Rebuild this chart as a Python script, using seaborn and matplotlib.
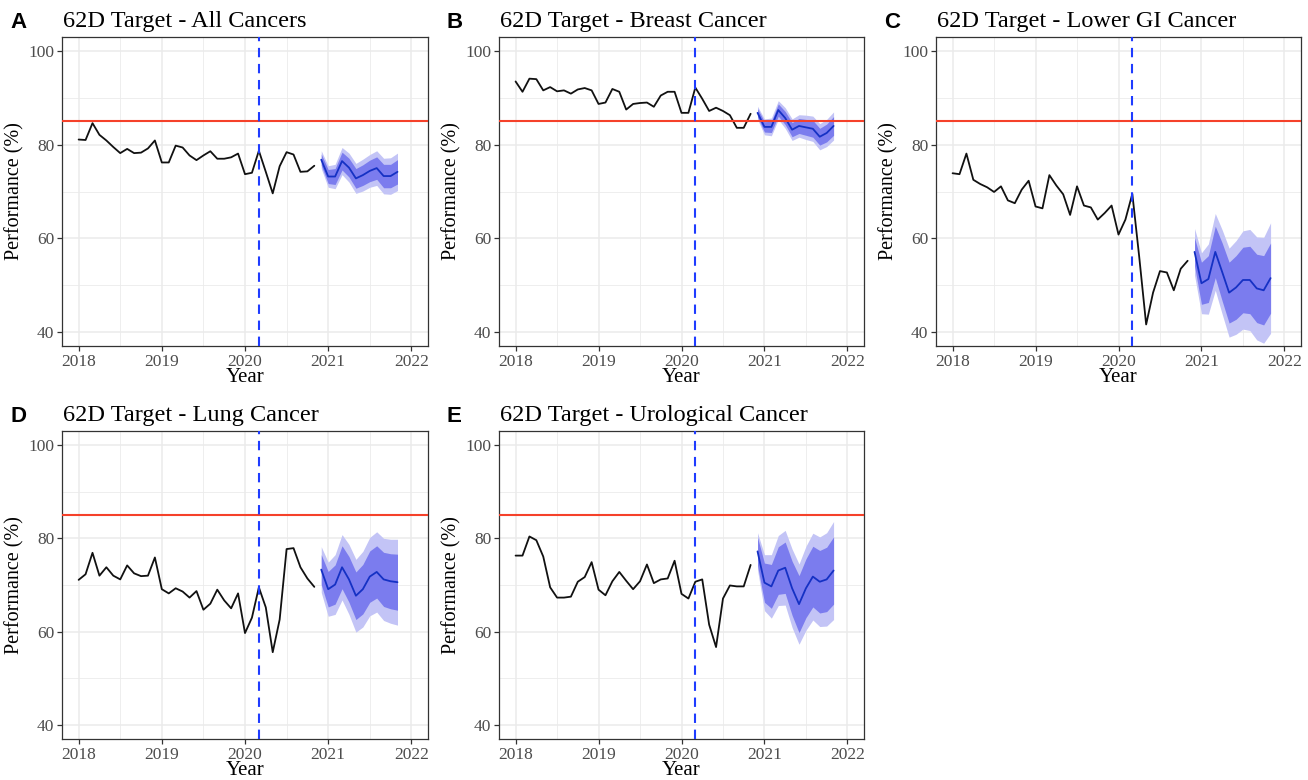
import numpy as np
import pandas as pd
import matplotlib
matplotlib.use("Agg")
import matplotlib.pyplot as plt
import seaborn as sns
from matplotlib.ticker import MultipleLocator

# ---- monthly performance against the 62-day target (%) ----
hist_start, hist_end = "2018-01-01", "2020-11-01"
fc_start, fc_end = "2020-12-01", "2021-11-01"

all_hist = [81.1, 81.0, 84.6, 82.1, 80.9, 79.5, 78.2, 79.1, 78.2, 78.3, 79.2, 80.9,
            76.2, 76.2, 79.8, 79.4, 77.7, 76.7, 77.7, 78.6, 77.0, 77.0, 77.3, 78.1,
            73.7, 74.0, 78.7, 74.2, 69.6, 75.4, 78.4, 77.9, 74.2, 74.3, 75.5]
all_fc = [76.8, 73.2, 73.2, 76.5, 75.1, 72.8, 73.5, 74.4, 75.0, 73.3, 73.3, 74.2]
all_lo80 = [75.6, 71.7, 71.5, 74.6, 73.1, 70.7, 71.3, 72.1, 72.6, 70.8, 70.8, 71.6]
all_hi80 = [78.0, 74.7, 74.9, 78.4, 77.1, 74.9, 75.7, 76.7, 77.4, 75.8, 75.8, 76.8]
all_lo95 = [74.9, 70.9, 70.6, 73.6, 72.0, 69.6, 70.1, 70.9, 71.3, 69.5, 69.4, 70.2]
all_hi95 = [78.7, 75.5, 75.8, 79.4, 78.2, 76.0, 76.9, 77.9, 78.7, 77.1, 77.2, 78.2]

breast_hist = [93.5, 91.3, 94.1, 94.0, 91.6, 92.3, 91.4, 91.6, 90.9, 91.8, 92.1, 91.6,
               88.7, 89.0, 91.9, 91.3, 87.5, 88.7, 88.9, 89.0, 88.1, 90.5, 91.3, 91.3,
               86.8, 86.8, 92.2, 89.8, 87.2, 87.9, 87.2, 86.3, 83.6, 83.6, 86.6]
breast_fc = [86.8, 83.8, 83.8, 87.4, 85.7, 83.2, 84.0, 83.7, 83.4, 81.7, 82.5, 84.0]
breast_lo80 = [85.9, 82.7, 82.6, 86.1, 84.3, 81.7, 82.4, 82.0, 81.6, 79.9, 80.6, 82.0]
breast_hi80 = [87.7, 84.9, 85.0, 88.7, 87.1, 84.7, 85.6, 85.4, 85.2, 83.5, 84.4, 86.0]
breast_lo95 = [85.4, 82.1, 81.9, 85.4, 83.5, 80.9, 81.6, 81.1, 80.7, 78.9, 79.6, 81.0]
breast_hi95 = [88.2, 85.5, 85.7, 89.4, 87.9, 85.5, 86.4, 86.3, 86.1, 84.5, 85.4, 87.0]

lgi_hist = [73.9, 73.7, 78.1, 72.5, 71.6, 70.9, 69.9, 71.1, 68.1, 67.5, 70.4, 72.3,
            66.8, 66.4, 73.5, 71.3, 69.4, 65.0, 71.1, 67.0, 66.6, 64.0, 65.4, 67.0,
            60.8, 64.0, 69.5, 56.0, 41.6, 48.4, 53.0, 52.7, 48.9, 53.5, 55.2]
lgi_fc = [57.1, 50.4, 51.3, 57.1, 52.8, 48.4, 49.5, 51.1, 51.1, 49.3, 48.9, 51.5]
lgi_lo80 = [54.1, 45.9, 46.3, 51.6, 46.6, 41.9, 42.7, 44.1, 43.9, 42.0, 41.5, 44.0]
lgi_hi80 = [60.1, 54.9, 56.3, 62.6, 59.0, 54.9, 56.3, 58.1, 58.3, 56.6, 56.3, 59.0]
lgi_lo95 = [52.1, 43.9, 43.8, 48.9, 43.8, 38.9, 39.5, 40.6, 40.3, 38.3, 37.6, 39.7]
lgi_hi95 = [62.1, 56.9, 58.8, 65.3, 61.8, 57.9, 59.5, 61.6, 61.9, 60.3, 60.2, 63.3]

lung_hist = [71.1, 72.3, 76.9, 72.0, 73.8, 72.0, 71.2, 74.2, 72.5, 71.9, 72.0, 75.9,
             69.1, 68.2, 69.3, 68.6, 67.3, 68.7, 64.7, 66.0, 69.0, 66.7, 65.0, 68.2,
             59.7, 63.0, 69.5, 65.2, 55.6, 62.6, 77.7, 77.9, 73.8, 71.4, 69.6]
lung_fc = [73.3, 69.1, 70.1, 73.8, 71.2, 67.7, 69.1, 71.8, 72.8, 71.2, 70.8, 70.6]
lung_lo80 = [70.1, 65.3, 65.9, 69.2, 66.3, 62.6, 63.8, 66.3, 67.2, 65.4, 64.9, 64.6]
lung_hi80 = [76.5, 72.9, 74.3, 78.4, 76.1, 72.8, 74.4, 77.3, 78.4, 77.0, 76.7, 76.6]
lung_lo95 = [68.4, 63.3, 63.7, 66.8, 63.7, 59.9, 61.0, 63.4, 64.2, 62.4, 61.8, 61.4]
lung_hi95 = [78.2, 74.9, 76.5, 80.8, 78.7, 75.5, 77.2, 80.2, 81.4, 80.0, 79.8, 79.8]

uro_hist = [76.3, 76.3, 80.4, 79.6, 76.1, 69.5, 67.3, 67.3, 67.5, 70.7, 71.7, 74.9,
            69.0, 67.8, 70.8, 72.8, 70.9, 69.1, 70.8, 74.4, 70.4, 71.2, 71.4, 75.2,
            68.1, 67.1, 70.7, 71.2, 61.5, 56.7, 67.1, 69.9, 69.7, 69.7, 74.3]
uro_fc = [77.2, 70.5, 69.7, 73.1, 73.7, 69.3, 65.9, 69.3, 71.8, 70.7, 71.2, 73.1]
uro_lo80 = [74.2, 66.3, 65.0, 68.0, 68.2, 63.5, 59.8, 63.0, 65.3, 64.0, 64.3, 65.9]
uro_hi80 = [80.2, 74.7, 74.4, 78.2, 79.2, 75.1, 72.0, 75.6, 78.3, 77.4, 78.1, 80.3]
uro_lo95 = [73.2, 64.5, 62.9, 65.6, 65.7, 60.9, 57.3, 60.3, 62.5, 61.1, 61.2, 62.6]
uro_hi95 = [81.2, 76.5, 76.5, 80.6, 81.7, 77.7, 74.5, 78.3, 81.1, 80.3, 81.2, 83.6]

panel_letters = ["A", "B", "C", "D", "E"]
panel_titles = ["62D Target - All Cancers", "62D Target - Breast Cancer",
                "62D Target - Lower GI Cancer", "62D Target - Lung Cancer",
                "62D Target - Urological Cancer"]
target_pct = 85
lockdown = "2020-03-01"
x_ticks = [2018, 2019, 2020, 2021, 2022]
y_ticks = [40, 60, 80, 100]

# ---- styling ----
sns.set_theme(style="white")
plt.rcParams["font.family"] = ["Liberation Serif", "DejaVu Serif"]

BLACK = "#111111"
FC_LINE = "#1531C4"
BAND80 = "#7B7CEE"
BAND95 = "#C3C4F6"
TARGET = "#F5412A"
VLINE = "#1F3CFF"
GRID = "#EBEBEB"
BORDER = "#333333"

W, H = 1308, 780


def dec_year(idx):
    return np.asarray(idx.year + (idx.month - 1) / 12.0, dtype=float)


x_hist = dec_year(pd.date_range(hist_start, hist_end, freq="MS"))
x_fc = dec_year(pd.date_range(fc_start, fc_end, freq="MS"))
x_lock = dec_year(pd.DatetimeIndex([lockdown]))[0]

series = [
    (all_hist, all_fc, all_lo80, all_hi80, all_lo95, all_hi95),
    (breast_hist, breast_fc, breast_lo80, breast_hi80, breast_lo95, breast_hi95),
    (lgi_hist, lgi_fc, lgi_lo80, lgi_hi80, lgi_lo95, lgi_hi95),
    (lung_hist, lung_fc, lung_lo80, lung_hi80, lung_lo95, lung_hi95),
    (uro_hist, uro_fc, uro_lo80, uro_hi80, uro_lo95, uro_hi95),
]

# panel boxes in pixels: (left, top, right, bottom)
boxes = [(62, 37, 428, 346), (499, 37, 864, 346), (936, 37, 1301, 346),
         (62, 431, 428, 739), (499, 431, 864, 739)]

fig = plt.figure(figsize=(W / 100, H / 100), dpi=100)
fig.patch.set_facecolor("white")

for i, (letter, title, data, box) in enumerate(zip(panel_letters, panel_titles, series, boxes)):
    hist, fc, lo80, hi80, lo95, hi95 = data
    l, t, r, b = box
    ax = fig.add_axes([l / W, 1 - b / H, (r - l) / W, (b - t) / H])

    ax.fill_between(x_fc, lo95, hi95, color=BAND95, lw=0, zorder=2)
    ax.fill_between(x_fc, lo80, hi80, color=BAND80, lw=0, zorder=2.1)
    sns.lineplot(x=x_hist, y=hist, ax=ax, color=BLACK, lw=1.3, zorder=3)
    sns.lineplot(x=x_fc, y=fc, ax=ax, color=FC_LINE, lw=1.3, zorder=3)
    ax.axhline(target_pct, color=TARGET, lw=1.5, zorder=4)
    ax.axvline(x_lock, color=VLINE, lw=1.5, ls=(0, (4.5, 3.2)), zorder=4)

    ax.set_xlim(2017.8, 2022.2)
    ax.set_ylim(37, 103)
    ax.set_xticks(x_ticks)
    ax.set_yticks(y_ticks)
    ax.xaxis.set_minor_locator(MultipleLocator(0.5))
    ax.yaxis.set_minor_locator(MultipleLocator(10))
    ax.set_axisbelow(True)
    ax.grid(which="major", color=GRID, lw=1.1, zorder=0)
    ax.grid(which="minor", color=GRID, lw=0.6, zorder=0)

    ax.tick_params(which="major", length=3.5, width=0.9, color=BORDER,
                   labelsize=12.5, labelcolor="#4D4D4D", pad=2,
                   bottom=True, left=True)
    ax.tick_params(which="minor", length=0)
    for sp in ax.spines.values():
        sp.set_color(BORDER)
        sp.set_linewidth(0.9)

    ax.set_xlabel("Year", fontsize=15, labelpad=-1, color="black")
    ax.set_ylabel("Performance (%)", fontsize=14.5, labelpad=3, color="black")

    fig.text((l + 1) / W, 1 - (t - 10) / H, title, fontsize=17.5,
             ha="left", va="baseline", color="black")
    fig.text((l - 52) / W, 1 - (t - 9) / H, letter, fontsize=16,
             fontweight="bold", family=["Liberation Sans", "DejaVu Sans"],
             ha="left", va="baseline", color="black")

fig.savefig("out.png", dpi=100, facecolor="white")
